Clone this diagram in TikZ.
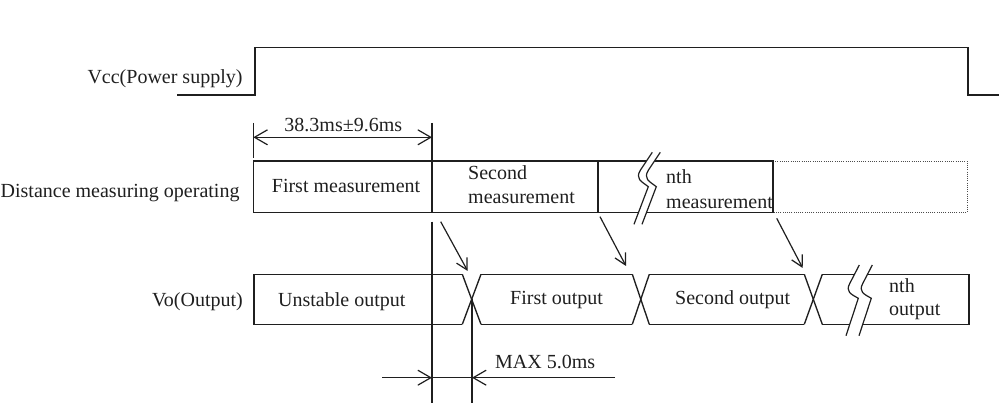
\documentclass[tikz,border=0pt]{standalone}
\usepackage{fontspec}
\setmainfont{Liberation Serif}
\usetikzlibrary{arrows.meta}
\begin{document}
\begin{tikzpicture}[x=1pt,y=-1pt,
  wave/.style={line width=1.35pt, line join=miter, color=black!88},
  lbl/.style={font=\fontsize{20}{24}\selectfont, inner sep=0pt, text=black!88},
  dimarr/.style={line width=1.2pt, color=black!88, -{Straight Barb[length=13pt,width=15pt,line width=1.2pt]}},
  dimboth/.style={line width=1.2pt, color=black!88, {Straight Barb[length=13pt,width=15pt,line width=1.2pt]}-{Straight Barb[length=13pt,width=15pt,line width=1.2pt]}},
  causearr/.style={line width=1.2pt, color=black!88, -{Straight Barb[length=11pt,width=12pt,line width=1.2pt]}},
  plainline/.style={line width=1.2pt, color=black!88},
  dotbox/.style={line width=0.9pt, color=black!70, dash pattern=on 1pt off 1.2pt}]
\useasboundingbox (0,0) rectangle (999,406);

% ---------- Vcc ----------
\draw[wave] (177,95) -- (255,95) -- (255,47.7) -- (968,47.7) -- (968,95) -- (999,95);
\node[lbl, anchor=base east] (vcc) at (242.7,84) {Vcc(Power supply)};

% ---------- dimension 38.3 ms ----------
\coordinate (tickA1) at (253.3,123);
\coordinate (tickA2) at (253.3,158.3);
\coordinate (tickB1) at (432,123);
\coordinate (tickB2) at (432,161);
\draw[plainline] (tickA1) -- (tickA2);
\draw[plainline] (tickB1) -- (tickB2);
\coordinate (dA) at (253.3,137.3);
\coordinate (dB) at (432,137.3);
\draw[dimboth] (dA) -- (dB);
\node[lbl, anchor=base] (t383) at (343.3,131.7) {38.3ms±9.6ms};

% ---------- measurement row ----------
\draw[dotbox] (773,161) -- (967,161) -- (967,212.5) -- (773,212.5);
\draw[wave] (253.3,161) rectangle (773,212.5);
\draw[wave] (432,161) -- (432,212.5);
\draw[wave] (598,161) -- (598,212.5);
% break mark
\fill[white] (652.3,152.3) -- (640.5,170) .. controls (635,179) and (641,181) .. (648.3,186.7) -- (634,224.3)
   -- (642,224.3) -- (656.3,186.7) .. controls (649,181) and (643,179) .. (648.5,170) -- (660.3,152.3) -- cycle;
\draw[plainline] (652.3,152.3) -- (640.5,170) .. controls (635,179) and (641,181) .. (648.3,186.7) -- (634,224.3);
\draw[plainline] (660.3,152.3) -- (648.5,170) .. controls (643,179) and (649,181) .. (656.3,186.7) -- (642,224.3);

\node[lbl, anchor=base west] (dmo) at (0.5,197.7) {Distance measuring operating};
\node[lbl, anchor=base west] (fm) at (271.7,192.3) {First measurement};
\node[lbl, anchor=base west] (sm1) at (468,180) {Second};
\node[lbl, anchor=base west] (sm2) at (468,204) {measurement};
\node[lbl, anchor=base west] (nm1) at (666,184) {nth};
\node[lbl, anchor=base west] (nm2) at (666,208.3) {measurement};

% ---------- output row ----------
\draw[wave] (462.3,274.3) -- (254,274.3) -- (254,324.3) -- (462.3,324.3);
\draw[wave] (462.3,274.3) -- (481,324.3);
\draw[wave] (462.3,324.3) -- (481,274.3);
\draw[wave] (481,274.3) -- (632.3,274.3);
\draw[wave] (481,324.3) -- (632.3,324.3);
\draw[wave] (632.3,274.3) -- (649.3,324.3);
\draw[wave] (632.3,324.3) -- (649.3,274.3);
\draw[wave] (649.3,274.3) -- (804.3,274.3);
\draw[wave] (649.3,324.3) -- (804.3,324.3);
\draw[wave] (804.3,274.3) -- (822.3,324.3);
\draw[wave] (804.3,324.3) -- (822.3,274.3);
\draw[wave] (822.3,274.3) -- (969,274.3) -- (969,324.3) -- (822.3,324.3);
% break mark
\fill[white] (859.3,265) -- (850,283) .. controls (845,292) and (851,294) .. (858.3,298.3) -- (846,335.7)
   -- (859,335.7) -- (871.3,298.3) .. controls (864,294) and (858,292) .. (863,283) -- (872.3,265) -- cycle;
\draw[plainline] (859.3,265) -- (850,283) .. controls (845,292) and (851,294) .. (858.3,298.3) -- (846,335.7);
\draw[plainline] (872.3,265) -- (863,283) .. controls (858,292) and (864,294) .. (871.3,298.3) -- (859,335.7);

\node[lbl, anchor=base east] (vo) at (243,306) {Vo(Output)};
\node[lbl, anchor=base west] (uo) at (278,306) {Unstable output};
\node[lbl, anchor=base west] (fo) at (510,305) {First output};
\node[lbl, anchor=base west] (so) at (675,305) {Second output};
\node[lbl, anchor=base west] (no1) at (889,292.7) {nth};
\node[lbl, anchor=base west] (no2) at (889,316) {output};

% ---------- cause arrows ----------
\coordinate (c1s) at (440.7,221.7); \coordinate (c1e) at (467.7,271);
\coordinate (c2s) at (600,216.7);   \coordinate (c2e) at (626,266);
\coordinate (c3s) at (776.7,218.3); \coordinate (c3e) at (802.7,268);
\draw[causearr] (c1s) -- (c1e);
\draw[causearr] (c2s) -- (c2e);
\draw[causearr] (c3s) -- (c3e);

% ---------- timing lines ----------
\coordinate (v1t) at (432,221.7); \coordinate (v1b) at (432,403);
\coordinate (v2t) at (472,299.3); \coordinate (v2b) at (472,403);
\draw[plainline] (v1t) -- (v1b);
\draw[plainline] (v2t) -- (v2b);

% ---------- MAX 5.0 ms ----------
\coordinate (mL) at (382,377.7);
\coordinate (mA) at (432,377.7);
\coordinate (mB) at (472,377.7);
\coordinate (mR) at (615,377.7);
\draw[dimarr] (mL) -- (mA);
\draw[plainline] (mA) -- (mB);
\draw[dimarr] (mR) -- (mB);
\node[lbl, anchor=base west] (maxl) at (495,368.3) {MAX 5.0ms};
\end{tikzpicture}
\end{document}
